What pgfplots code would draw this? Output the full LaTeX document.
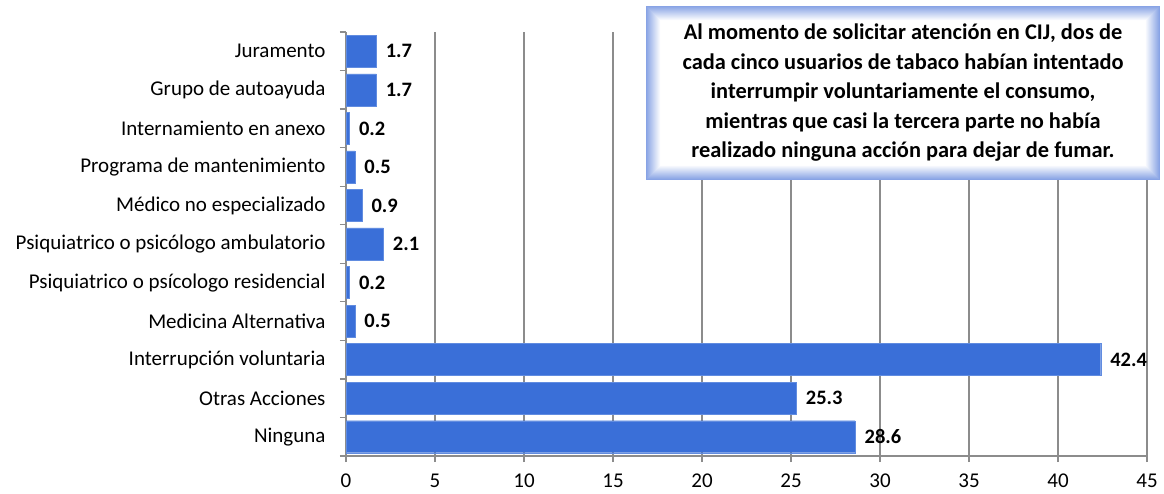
\documentclass[border=0pt]{standalone}
\usepackage{fontspec}
\setmainfont{Carlito}
\usepackage{pgfplots}
\pgfplotsset{compat=1.18}
\definecolor{barblue}{HTML}{3A6FD8}
\definecolor{gridgray}{HTML}{8C8C8C}
\definecolor{glow}{HTML}{7393E0}
\begin{document}
\begin{tikzpicture}[x=1pt,y=1pt]
\useasboundingbox (0,0) rectangle (1164,493);
\begin{axis}[
  at={(346pt,37pt)}, anchor=south west,
  scale only axis, width=801pt, height=424pt,
  xbar, bar width=32pt,
  xmin=0, xmax=45, xtick={0,5,...,45},
  ymin=-0.5, ymax=10.5,
  ytick={0,...,10},
  yticklabels={Ninguna, Otras Acciones, Interrupción voluntaria, Medicina Alternativa, Psiquiatrico o psícologo residencial, Psiquiatrico o psicólogo ambulatorio, Médico no especializado, Programa de mantenimiento, Internamiento en anexo, Grupo de autoayuda, Juramento},
  minor ytick={-0.5,0.5,...,10.5},
  axis x line*=bottom, axis y line*=left,
  axis line style={draw=gridgray, line width=1.2pt},
  tick align=outside,
  major tick length=6pt, minor tick length=6pt,
  major y tick style={draw=none},
  minor y tick style={draw=gridgray, line width=1.2pt},
  major x tick style={draw=gridgray, line width=1.2pt},
  xmajorgrids, grid style={draw=gridgray, line width=1.2pt},
  /pgf/number format/assume math mode=true,
  tick label style={font=\fontsize{21}{24}\selectfont, text=black},
  yticklabel style={xshift=-11pt},
  xticklabel style={inner sep=0pt, yshift=-12pt},
  nodes near coords,
  point meta=x,
  nodes near coords style={font=\bfseries\fontsize{20.5}{24}\selectfont, anchor=west, xshift=6pt,
    /pgf/number format/.cd, fixed, fixed zerofill, precision=1, assume math mode=true},
]
\addplot[fill=barblue, draw=barblue!80!white] coordinates {
(28.6,0) (25.3,1) (42.4,2) (0.5,3) (0.2,4) (2.1,5) (0.9,6) (0.5,7) (0.2,8) (1.7,9) (1.7,10)
};
\end{axis}
\foreach \i in {0,...,14} {
  \pgfmathsetmacro{\p}{85-\i*6}
  \fill[glow!\p!white] (646+\i,313+\i) rectangle (1160-\i,487-\i);
}
\fill[white] (646+15,313+15) rectangle (1160-15,487-15);
\node[align=center, font=\bfseries\fontsize{22.4}{29.5}\selectfont, text=black] at (903,400)
{Al momento de solicitar atención en CIJ, dos de\\
cada cinco usuarios de tabaco habían intentado\\
interrumpir voluntariamente el consumo,\\
mientras que casi la tercera parte no había\\
realizado ninguna acción para dejar de fumar.};
\end{tikzpicture}
\end{document}
